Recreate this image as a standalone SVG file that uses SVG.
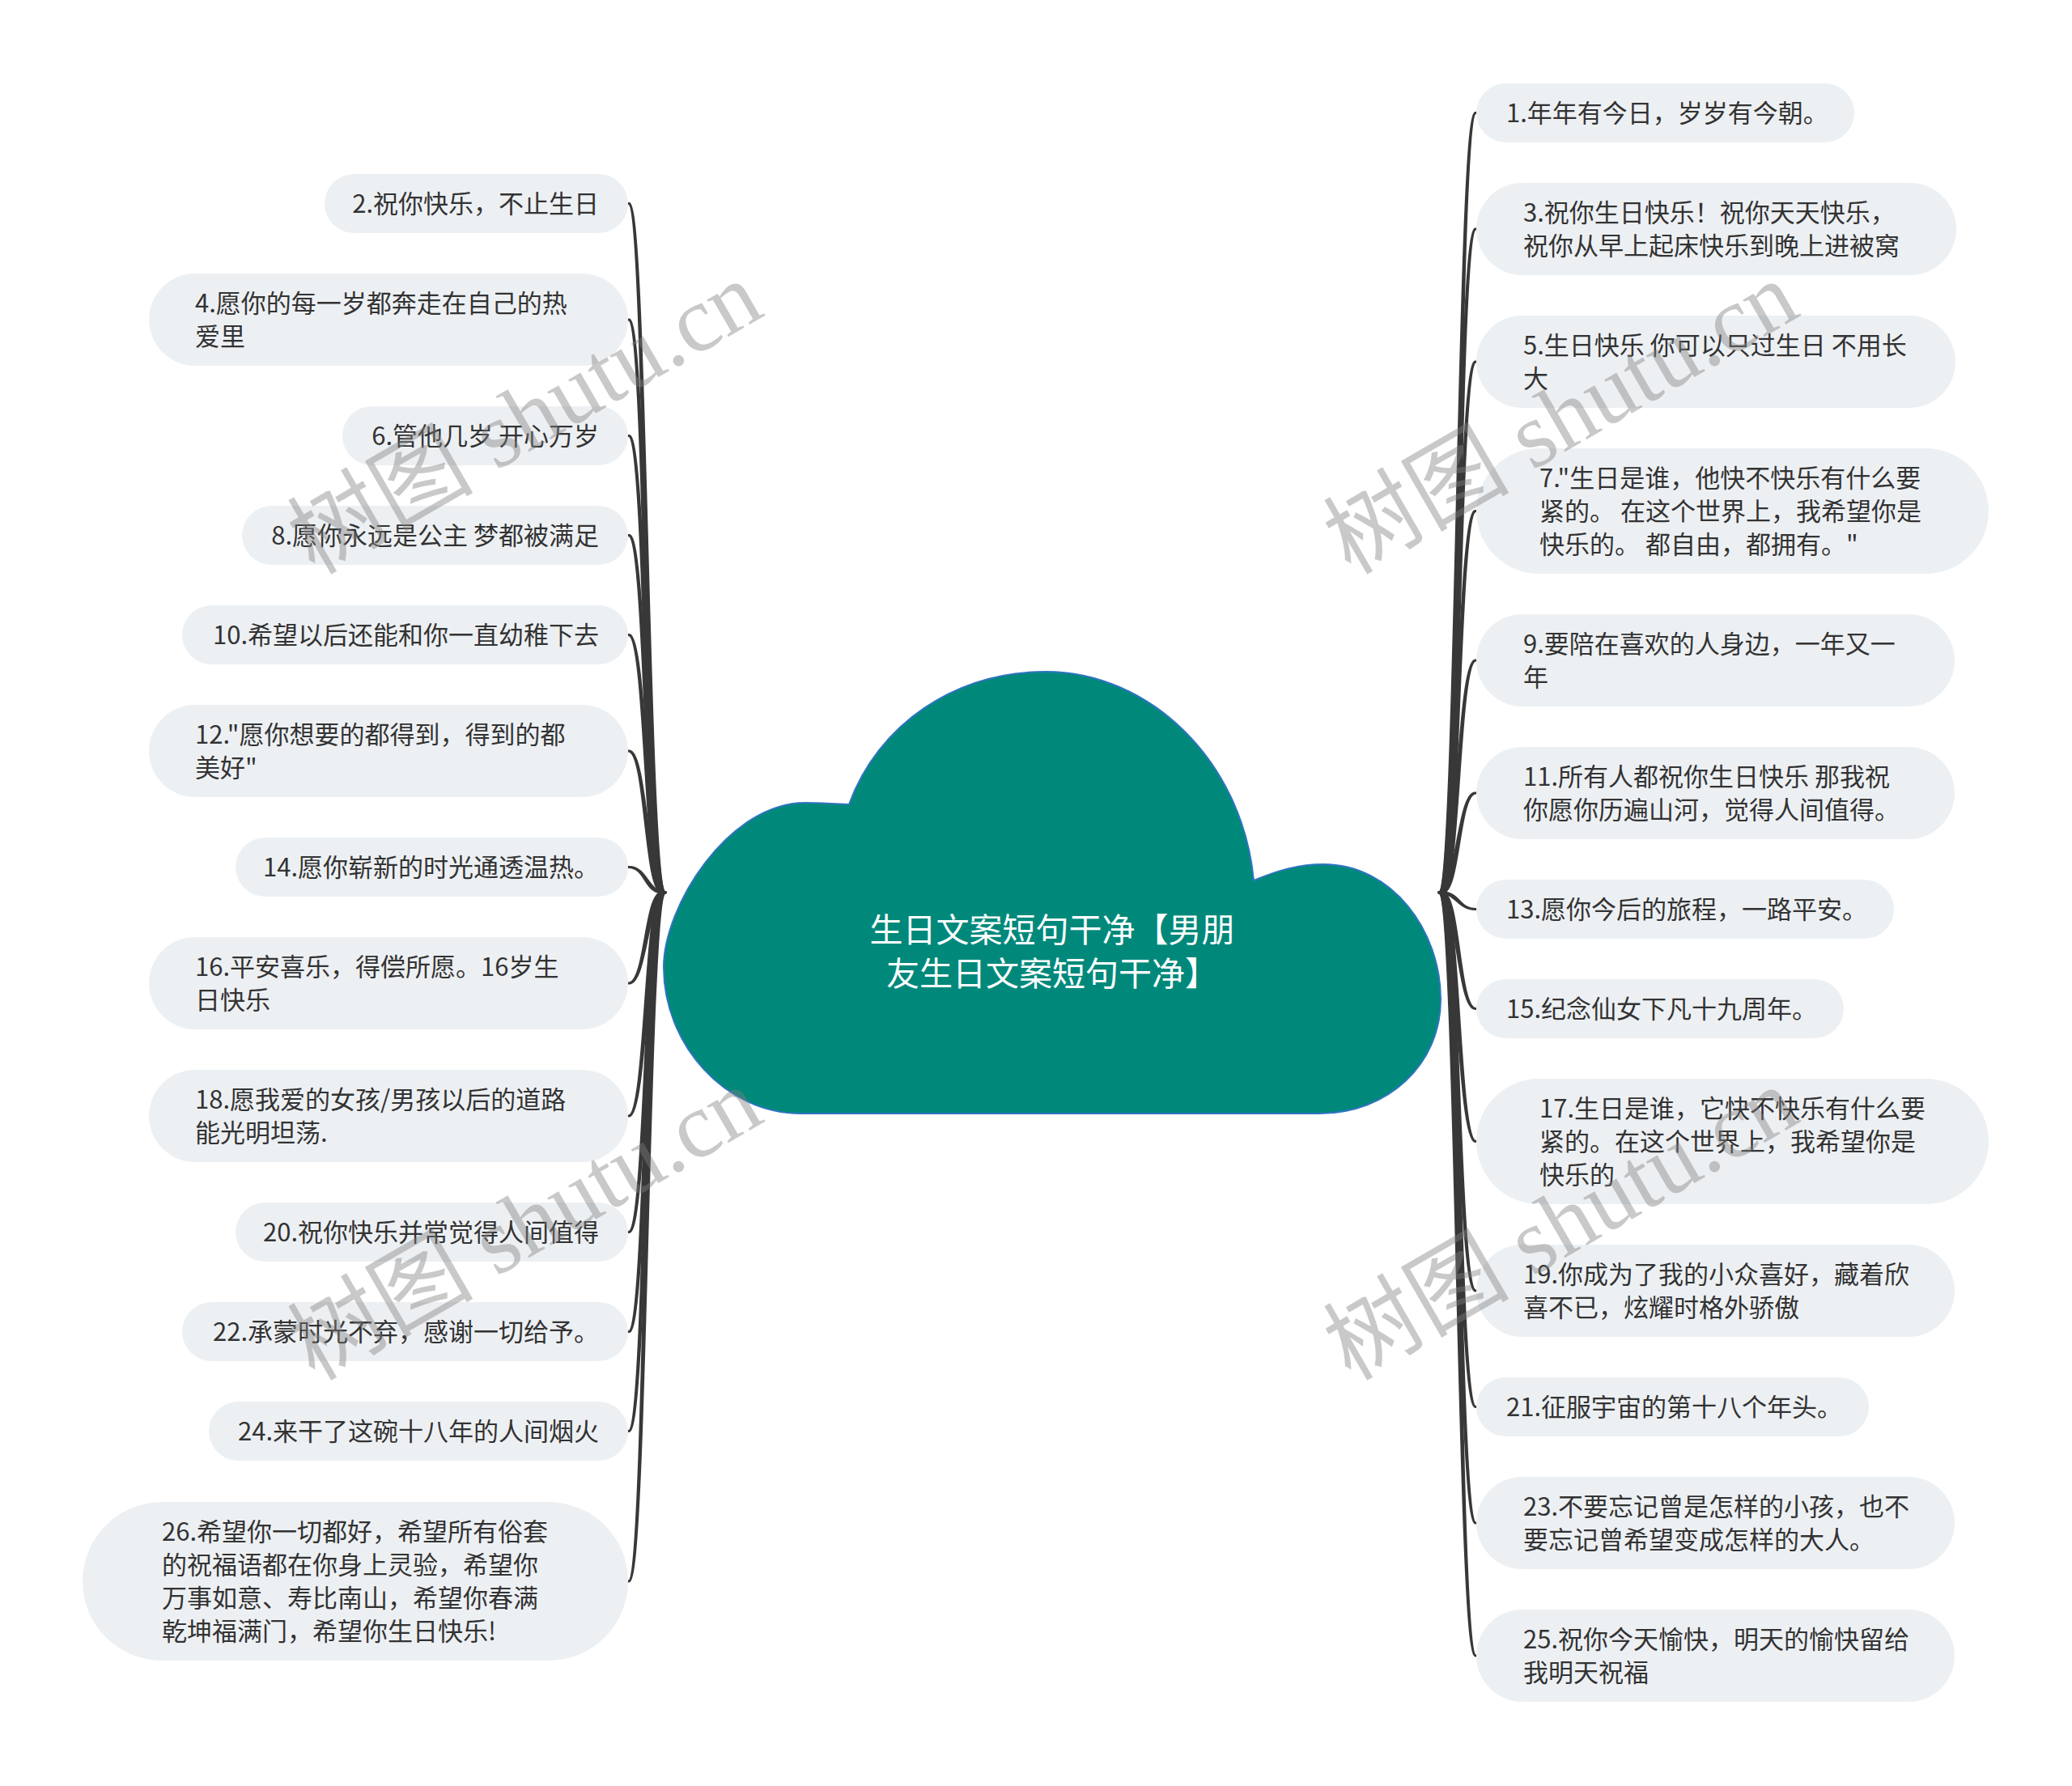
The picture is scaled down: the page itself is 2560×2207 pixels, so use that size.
<svg xmlns="http://www.w3.org/2000/svg" width="2560" height="2207" viewBox="0 0 2560 2207">
<style>
.node rect{fill:#edf0f3}
.node text{font-family:"Noto Sans CJK SC","Liberation Sans",sans-serif;font-size:31px;fill:#333333}
.r{text-anchor:end}
.conn path{fill:#383838;stroke:#383838;stroke-width:2.8;stroke-linejoin:round}
.wm{font-family:"Liberation Serif","Noto Sans CJK SC",serif;font-size:115px;fill:#808080;opacity:0.42;text-anchor:middle}
</style>
<rect width="2560" height="2207" fill="#ffffff"/>
<g id="connectors" class="conn">
<path d="M822.2 1103 C800.7 1103,799 251.5,777.5 251.5 L776.5 251.5 C798 251.5,796.3 1103,817.8 1103 Z"/>
<path d="M822.2 1103 C800.7 1103,799 395,777.5 395 L776.5 395 C798 395,796.3 1103,817.8 1103 Z"/>
<path d="M822.2 1103 C800.7 1103,799 538.5,777.5 538.5 L776.5 538.5 C798 538.5,796.3 1103,817.8 1103 Z"/>
<path d="M822.2 1103 C800.7 1103,799 661.5,777.5 661.5 L776.5 661.5 C798 661.5,796.3 1103,817.8 1103 Z"/>
<path d="M822.2 1103 C800.7 1103,799 784.5,777.5 784.5 L776.5 784.5 C798 784.5,796.3 1103,817.8 1103 Z"/>
<path d="M822.2 1103 C800.7 1103,799 928,777.5 928 L776.5 928 C798 928,796.3 1103,817.8 1103 Z"/>
<path d="M822.2 1103 C800.7 1103,799 1071.5,777.5 1071.5 L776.5 1071.5 C798 1071.5,796.3 1103,817.8 1103 Z"/>
<path d="M822.2 1103 C800.7 1103,799 1215,777.5 1215 L776.5 1215 C798 1215,796.3 1103,817.8 1103 Z"/>
<path d="M822.2 1103 C800.7 1103,799 1379,777.5 1379 L776.5 1379 C798 1379,796.3 1103,817.8 1103 Z"/>
<path d="M822.2 1103 C800.7 1103,799 1522.5,777.5 1522.5 L776.5 1522.5 C798 1522.5,796.3 1103,817.8 1103 Z"/>
<path d="M822.2 1103 C800.7 1103,799 1645.5,777.5 1645.5 L776.5 1645.5 C798 1645.5,796.3 1103,817.8 1103 Z"/>
<path d="M822.2 1103 C800.7 1103,799 1768.5,777.5 1768.5 L776.5 1768.5 C798 1768.5,796.3 1103,817.8 1103 Z"/>
<path d="M822.2 1103 C800.7 1103,799 1954,777.5 1954 L776.5 1954 C798 1954,796.3 1103,817.8 1103 Z"/>
<path d="M1782.2 1103 C1803.7 1103,1802 139.5,1823.5 139.5 L1822.5 139.5 C1801 139.5,1799.3 1103,1777.8 1103 Z"/>
<path d="M1782.2 1103 C1803.7 1103,1802 283,1823.5 283 L1822.5 283 C1801 283,1799.3 1103,1777.8 1103 Z"/>
<path d="M1782.2 1103 C1803.7 1103,1802 447,1823.5 447 L1822.5 447 C1801 447,1799.3 1103,1777.8 1103 Z"/>
<path d="M1782.2 1103 C1803.7 1103,1802 631.5,1823.5 631.5 L1822.5 631.5 C1801 631.5,1799.3 1103,1777.8 1103 Z"/>
<path d="M1782.2 1103 C1803.7 1103,1802 816,1823.5 816 L1822.5 816 C1801 816,1799.3 1103,1777.8 1103 Z"/>
<path d="M1782.2 1103 C1803.7 1103,1802 980,1823.5 980 L1822.5 980 C1801 980,1799.3 1103,1777.8 1103 Z"/>
<path d="M1782.2 1103 C1803.7 1103,1802 1123.5,1823.5 1123.5 L1822.5 1123.5 C1801 1123.5,1799.3 1103,1777.8 1103 Z"/>
<path d="M1782.2 1103 C1803.7 1103,1802 1246.5,1823.5 1246.5 L1822.5 1246.5 C1801 1246.5,1799.3 1103,1777.8 1103 Z"/>
<path d="M1782.2 1103 C1803.7 1103,1802 1410.5,1823.5 1410.5 L1822.5 1410.5 C1801 1410.5,1799.3 1103,1777.8 1103 Z"/>
<path d="M1782.2 1103 C1803.7 1103,1802 1595,1823.5 1595 L1822.5 1595 C1801 1595,1799.3 1103,1777.8 1103 Z"/>
<path d="M1782.2 1103 C1803.7 1103,1802 1738.5,1823.5 1738.5 L1822.5 1738.5 C1801 1738.5,1799.3 1103,1777.8 1103 Z"/>
<path d="M1782.2 1103 C1803.7 1103,1802 1882,1823.5 1882 L1822.5 1882 C1801 1882,1799.3 1103,1777.8 1103 Z"/>
<path d="M1782.2 1103 C1803.7 1103,1802 2046,1823.5 2046 L1822.5 2046 C1801 2046,1799.3 1103,1777.8 1103 Z"/>
</g>
<g id="n-root">
<path d="M1049 994 C1085 895,1180 830,1292 830 C1420 830,1535 940,1549 1088 C1580 1075,1605 1068,1635 1068 C1720 1068,1780 1150,1780 1235 C1780 1315,1715 1376,1630 1376 L990 1376 C895 1376,820 1290,820 1195 C820 1120,900 992,995 992 C1015 992,1033 993,1049 994 Z" fill="#00897b" stroke="#2f74c0" stroke-width="2"/>
<text x="1300" y="1164" text-anchor="middle" font-family="Noto Sans CJK SC, Liberation Sans, sans-serif" font-size="41" fill="#ffffff">生日文案短句干净【男朋</text>
<text x="1300" y="1218" text-anchor="middle" font-family="Noto Sans CJK SC, Liberation Sans, sans-serif" font-size="41" fill="#ffffff">友生日文案短句干净】</text>
</g>
<g id="n-l2" class="node"><rect x="401" y="215" width="375" height="73" rx="36.5"/><text class="r" x="740" y="263">2.祝你快乐，不止生日</text></g>
<g id="n-l4" class="node"><rect x="184" y="338" width="592" height="114" rx="57"/><text x="241" y="386">4.愿你的每一岁都奔走在自己的热</text><text x="241" y="427">爱里</text></g>
<g id="n-l6" class="node"><rect x="423" y="502" width="353" height="73" rx="36.5"/><text class="r" x="740" y="550">6.管他几岁 开心万岁</text></g>
<g id="n-l8" class="node"><rect x="299" y="625" width="477" height="73" rx="36.5"/><text class="r" x="740" y="673">8.愿你永远是公主 梦都被满足</text></g>
<g id="n-l10" class="node"><rect x="225" y="748" width="551" height="73" rx="36.5"/><text class="r" x="740" y="796">10.希望以后还能和你一直幼稚下去</text></g>
<g id="n-l12" class="node"><rect x="184" y="871" width="592" height="114" rx="57"/><text x="241" y="919">12."愿你想要的都得到，得到的都</text><text x="241" y="960">美好"</text></g>
<g id="n-l14" class="node"><rect x="291" y="1035" width="485" height="73" rx="36.5"/><text class="r" x="740" y="1083">14.愿你崭新的时光通透温热。</text></g>
<g id="n-l16" class="node"><rect x="184" y="1158" width="592" height="114" rx="57"/><text x="241" y="1206">16.平安喜乐，得偿所愿。16岁生</text><text x="241" y="1247">日快乐</text></g>
<g id="n-l18" class="node"><rect x="184" y="1322" width="592" height="114" rx="57"/><text x="241" y="1370">18.愿我爱的女孩/男孩以后的道路</text><text x="241" y="1411">能光明坦荡.</text></g>
<g id="n-l20" class="node"><rect x="291" y="1486" width="485" height="73" rx="36.5"/><text class="r" x="740" y="1534">20.祝你快乐并常觉得人间值得</text></g>
<g id="n-l22" class="node"><rect x="225" y="1609" width="551" height="73" rx="36.5"/><text class="r" x="740" y="1657">22.承蒙时光不弃，感谢一切给予。</text></g>
<g id="n-l24" class="node"><rect x="258" y="1732" width="518" height="73" rx="36.5"/><text class="r" x="740" y="1780">24.来干了这碗十八年的人间烟火</text></g>
<g id="n-l26" class="node"><rect x="102" y="1856" width="674" height="196" rx="98"/><text x="200" y="1904">26.希望你一切都好，希望所有俗套</text><text x="200" y="1945">的祝福语都在你身上灵验，希望你</text><text x="200" y="1986">万事如意、寿比南山，希望你春满</text><text x="200" y="2027">乾坤福满门，希望你生日快乐!</text></g>
<g id="n-r1" class="node"><rect x="1824" y="103" width="467" height="73" rx="36.5"/><text x="1861" y="151">1.年年有今日，岁岁有今朝。</text></g>
<g id="n-r3" class="node"><rect x="1824" y="226" width="593" height="114" rx="57"/><text x="1882" y="274">3.祝你生日快乐！祝你天天快乐，</text><text x="1882" y="315">祝你从早上起床快乐到晚上进被窝</text></g>
<g id="n-r5" class="node"><rect x="1824" y="390" width="592" height="114" rx="57"/><text x="1882" y="438">5.生日快乐 你可以只过生日 不用长</text><text x="1882" y="479">大</text></g>
<g id="n-r7" class="node"><rect x="1824" y="554" width="633" height="155" rx="77.5"/><text x="1902" y="602">7."生日是谁，他快不快乐有什么要</text><text x="1902" y="643">紧的。 在这个世界上，我希望你是</text><text x="1902" y="684">快乐的。 都自由，都拥有。"</text></g>
<g id="n-r9" class="node"><rect x="1824" y="759" width="591" height="114" rx="57"/><text x="1882" y="807">9.要陪在喜欢的人身边，一年又一</text><text x="1882" y="848">年</text></g>
<g id="n-r11" class="node"><rect x="1824" y="923" width="591" height="114" rx="57"/><text x="1882" y="971">11.所有人都祝你生日快乐 那我祝</text><text x="1882" y="1012">你愿你历遍山河，觉得人间值得。</text></g>
<g id="n-r13" class="node"><rect x="1824" y="1087" width="516" height="73" rx="36.5"/><text x="1861" y="1135">13.愿你今后的旅程，一路平安。</text></g>
<g id="n-r15" class="node"><rect x="1824" y="1210" width="454" height="73" rx="36.5"/><text x="1861" y="1258">15.纪念仙女下凡十九周年。</text></g>
<g id="n-r17" class="node"><rect x="1824" y="1333" width="633" height="155" rx="77.5"/><text x="1902" y="1381">17.生日是谁，它快不快乐有什么要</text><text x="1902" y="1422">紧的。在这个世界上，我希望你是</text><text x="1902" y="1463">快乐的</text></g>
<g id="n-r19" class="node"><rect x="1824" y="1538" width="591" height="114" rx="57"/><text x="1882" y="1586">19.你成为了我的小众喜好，藏着欣</text><text x="1882" y="1627">喜不已，炫耀时格外骄傲</text></g>
<g id="n-r21" class="node"><rect x="1824" y="1702" width="485" height="73" rx="36.5"/><text x="1861" y="1750">21.征服宇宙的第十八个年头。</text></g>
<g id="n-r23" class="node"><rect x="1824" y="1825" width="591" height="114" rx="57"/><text x="1882" y="1873">23.不要忘记曾是怎样的小孩，也不</text><text x="1882" y="1914">要忘记曾希望变成怎样的大人。</text></g>
<g id="n-r25" class="node"><rect x="1824" y="1989" width="591" height="114" rx="57"/><text x="1882" y="2037">25.祝你今天愉快，明天的愉快留给</text><text x="1882" y="2078">我明天祝福</text></g>
<g id="watermark">
<text class="wm" transform="translate(668 550) rotate(-30)">树图 shutu.cn</text>
<text class="wm" transform="translate(668 1546) rotate(-30)">树图 shutu.cn</text>
<text class="wm" transform="translate(1948 550) rotate(-30)">树图 shutu.cn</text>
<text class="wm" transform="translate(1948 1546) rotate(-30)">树图 shutu.cn</text>
</g>
</svg>
